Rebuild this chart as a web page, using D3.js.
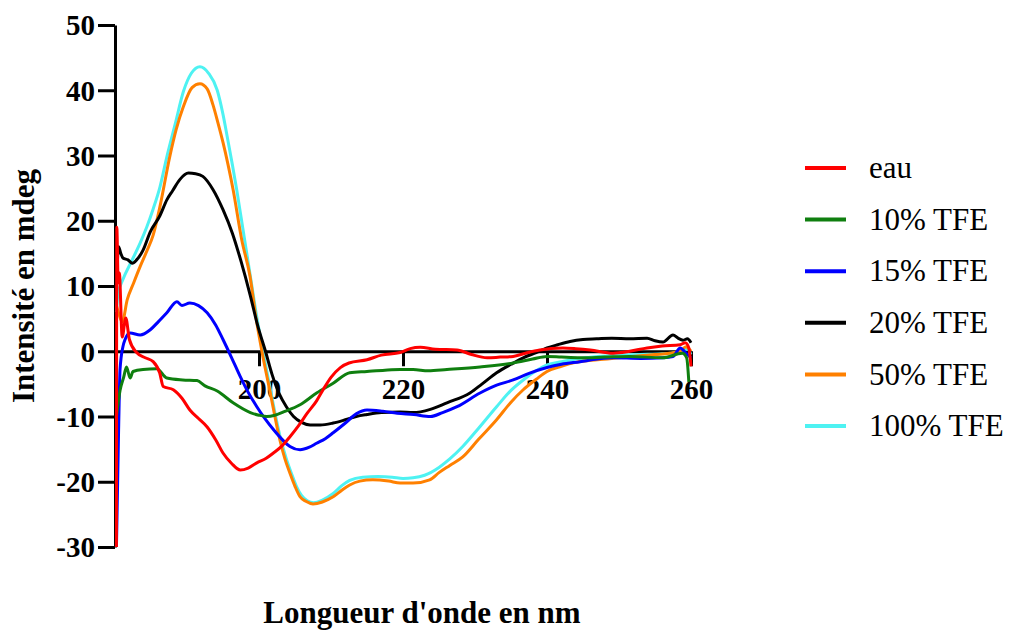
<!DOCTYPE html>
<html>
<head>
<meta charset="utf-8">
<script src="https://cdnjs.cloudflare.com/ajax/libs/d3/7.8.5/d3.min.js"></script>
<style>
  html, body { margin: 0; padding: 0; background: #fff; }
  svg { display: block; }
</style>
</head>
<body>
<svg id="chart" width="1009" height="631"></svg>
<script>
// ---- Data ----
const seriesNames = ["eau", "10% TFE", "15% TFE", "20% TFE", "50% TFE", "100% TFE"];
const seriesColors = ["#ff0000", "#0f7f0f", "#0000ff", "#000000", "#ff8000", "#4ef2f2"];

const xTicks = [200, 220, 240, 260];
const yTicks = [-30, -20, -10, 0, 10, 20, 30, 40, 50];

const eau = [[180.2,-30],[180.25,19],[180.45,10.5],[180.6,12],[181.0,2.2],[181.5,5.1],[182.0,1.8],[183.0,-0.2],[184.2,-1.0],[185.3,-1.6],[186.2,-3.3],[186.7,-5.4],[188.1,-5.9],[189.3,-7.2],[190.4,-9],[191.6,-10.3],[192.8,-11.6],[194,-13.6],[195,-15.6],[196.2,-17.2],[197.4,-18.2],[198.5,-17.9],[199.7,-17.1],[201,-16.4],[202,-15.6],[203.2,-14.5],[204.3,-13.1],[205.5,-11.4],[206.7,-9.5],[208,-7.6],[208.9,-5.9],[210,-4],[211.3,-2.5],[212.5,-1.8],[215,-1.3],[217,-0.6],[219.6,-0.2],[221,0.4],[222.4,0.6],[224.5,0.3],[227.5,0.2],[229.5,-0.5],[231.7,-1],[233.5,-0.9],[235.3,-0.8],[237,-0.3],[239,0.2],[242.2,0.5],[244,0.4],[246,0.2],[249.2,-0.3],[251.5,0],[253.9,0.5],[256,0.8],[258.5,1],[259.2,1.3],[259.7,0.5],[260,-2.3]];

const tfe10 = [[180.2,-10],[180.7,-6],[181.2,-4],[181.6,-2.4],[182.1,-4.1],[182.5,-3.1],[183.9,-2.8],[185.8,-2.7],[187.2,-4.1],[189.4,-4.4],[191.4,-4.5],[192.5,-5.3],[194.2,-6.1],[196.4,-7.9],[198.8,-9.4],[200,-9.8],[201.1,-10],[202.2,-9.8],[203.4,-9.3],[205.7,-8.2],[208,-6.4],[210.3,-4.9],[212.6,-3.3],[215,-3.1],[217.5,-2.9],[219.6,-2.8],[221.4,-2.8],[223.5,-3],[226.1,-2.8],[230.7,-2.4],[235.3,-1.8],[238,-1.2],[240,-0.8],[242,-0.9],[244.6,-1],[248,-0.9],[251.5,-0.8],[256.1,-1],[258.8,-0.3],[259.4,-1],[259.7,-4.7]];

const tfe15 = [[180.2,-30],[180.5,-12],[180.7,-2.8],[181.1,0.7],[181.4,1.8],[182.1,2.8],[183.5,2.5],[184.9,3.3],[186,4.5],[187.2,5.9],[188.6,7.6],[189.3,7],[190.4,7.4],[191.6,7],[192.8,5.9],[194,4],[195,1.8],[196.2,-1],[197.4,-3.9],[198.5,-6.3],[199.7,-8.5],[200.8,-10.3],[202,-12],[203.2,-13.5],[204.3,-14.6],[205.7,-15.1],[207,-14.7],[208,-14.1],[209.2,-13.4],[210.3,-12.5],[212,-11],[213.5,-9.6],[215,-9],[217.2,-9.2],[219.2,-9.5],[221.5,-9.7],[223.8,-10],[225.5,-9.4],[227.5,-8.5],[230.7,-6.4],[233,-5.2],[235.3,-4.4],[237.5,-3.4],[240,-2.5],[242,-2],[244.6,-1.6],[247,-1.2],[249.2,-1],[253,-1.1],[256.1,-1],[257.5,-0.8],[258.5,0.5],[259.3,-0.3],[260,-1]];

const tfe20 = [[180.2,10],[180.5,16],[180.8,15],[181.1,14.3],[181.8,14],[182.4,13.5],[183,14],[183.9,15.5],[184.9,18.3],[186.25,20.8],[187.2,23.2],[188,24.6],[189,26.3],[190.2,27.3],[191.2,27.2],[192.2,26.8],[193.6,24.8],[195,21.7],[196.3,18.1],[197.5,13.8],[198.8,8.5],[199.8,4],[200.9,0],[201.8,-3.5],[202.8,-6.5],[203.8,-8.5],[204.8,-10],[205.9,-10.9],[207.1,-11.3],[208.5,-11.3],[210.3,-11],[212,-10.5],[213.5,-10],[215,-9.7],[217,-9.4],[219.6,-9.3],[221.4,-9.4],[223.8,-8.9],[226.1,-7.9],[229.3,-6.4],[231,-5],[233,-3.3],[235,-2],[236.7,-1],[238.5,-0.2],[240,0.5],[241.5,1],[243.2,1.5],[245,1.8],[246.9,1.9],[249,2],[251.5,1.9],[253.9,2],[255,1.6],[256.1,1.4],[257.5,2.5],[258.2,2],[258.9,1.7],[259.5,1.9],[260,1.3]];

const tfe50 = [[180.2,7],[180.6,5.5],[181,4.5],[181.7,7.9],[182.6,10.5],[183.5,13],[184.4,15.3],[185.3,17.8],[186.25,22.2],[187.6,29.8],[188.5,34],[189.5,37.5],[190.7,40.4],[191.8,41],[192.8,40.2],[193.6,37.8],[194.3,35],[195,32],[195.7,28.6],[196.4,24.8],[197.6,17.1],[198.75,11.5],[199.6,5],[200.4,0],[201.5,-6],[202.9,-13.6],[203.6,-16.5],[204.3,-18.7],[205,-20.7],[205.7,-22.3],[206.5,-23],[207.5,-23.4],[208.8,-23.1],[210.3,-22.3],[211.5,-21.3],[212.6,-20.5],[214,-19.9],[215.8,-19.7],[218,-19.9],[219.6,-20.2],[221.4,-20.2],[223.7,-19.7],[225,-18.6],[226.5,-17.5],[228.3,-16.2],[230.5,-13.5],[233,-10.5],[235,-7.8],[236.7,-5.9],[238.5,-4.3],[240,-3.1],[242,-2.3],[244,-1.7],[247,-1.3],[250,-1],[253,-0.7],[255,-0.5],[257,-0.3],[258.5,0],[259.3,0.7],[260,0]];

const tfe100 = [[180.2,6],[180.4,8.7],[181.1,11],[182.3,13.8],[183.5,16.6],[184.4,19],[185.3,21.8],[186.25,25.2],[187.2,29.8],[188.4,35],[189.5,39.8],[190.6,42.6],[191.8,43.6],[193,42.6],[194.2,40],[195,36.3],[195.6,32.8],[196.3,28.6],[196.9,24.8],[197.8,18.5],[198.8,11.5],[199.7,5.2],[200.55,0],[201.6,-6],[203,-13.4],[203.8,-16.5],[204.5,-18.7],[205.2,-20.7],[205.9,-22.1],[206.7,-22.9],[207.6,-23.2],[208.8,-22.8],[210.3,-21.8],[211.5,-20.6],[212.6,-19.8],[214.4,-19.3],[216.5,-19.2],[218.5,-19.3],[220,-19.5],[221.4,-19.4],[223,-19],[225,-17.8],[226.5,-16.5],[228.3,-14.6],[230.5,-11.8],[233,-8.5],[235,-6],[236.7,-4.4],[238.5,-3],[240,-2.1],[242,-1.6],[244,-1.2],[247,-0.8],[250,-0.6],[253,-0.5],[256,-0.4],[258,-0.2],[259.5,0.3],[260,-0.5]];

const seriesData = [eau, tfe10, tfe15, tfe20, tfe50, tfe100];

// ---- Chart ----
const svg = d3.select("#chart");
const x = d3.scaleLinear().domain([180, 260]).range([115, 691]);
const y = d3.scaleLinear().domain([-30, 50]).range([547, 25]);

const font = "'Liberation Serif', 'Times New Roman', serif";

// Y axis
const yAxis = svg.append("g")
  .attr("transform", `translate(${x(180)},0)`)
  .call(d3.axisLeft(y).tickValues(yTicks).tickFormat(d => String(d)).tickSize(17).tickSizeOuter(0).tickPadding(3));
yAxis.selectAll("path,line").attr("stroke", "#000").attr("stroke-width", 3);
yAxis.selectAll("text")
  .attr("font-family", font).attr("font-weight", "bold").attr("font-size", 29)
  .attr("fill", "#000").attr("dy", "0.34em");

// X axis at y=0
const xAxis = svg.append("g")
  .attr("transform", `translate(0,${y(0)})`)
  .call(d3.axisBottom(x).tickValues(xTicks).tickFormat(d => String(d)).tickSize(15).tickSizeOuter(0).tickPadding(12));
xAxis.selectAll("path,line").attr("stroke", "#000").attr("stroke-width", 3);
xAxis.selectAll("text")
  .attr("font-family", font).attr("font-weight", "bold").attr("font-size", 29)
  .attr("fill", "#000");

// Lines (drawn in reverse so the first series is on top)
const line = d3.line().x(d => x(d[0])).y(d => y(d[1])).curve(d3.curveMonotoneX);
const order = d3.range(seriesData.length).reverse();
svg.append("g").selectAll("path")
  .data(order)
  .join("path")
  .attr("d", i => line(seriesData[i]))
  .attr("fill", "none")
  .attr("stroke", i => seriesColors[i])
  .attr("stroke-width", 3)
  .attr("stroke-linejoin", "round");

// Axis titles
svg.append("text")
  .attr("transform", `translate(34,${(y(50) + y(-30)) / 2}) rotate(-90)`)
  .attr("text-anchor", "middle")
  .attr("font-family", font).attr("font-weight", "bold").attr("font-size", 31)
  .text("Intensité en mdeg");

svg.append("text")
  .attr("x", 422).attr("y", 623)
  .attr("text-anchor", "middle")
  .attr("font-family", font).attr("font-weight", "bold").attr("font-size", 31)
  .text("Longueur d'onde en nm");

// Legend
const legendY = d3.scaleLinear().domain([0, 5]).range([168, 426]);
const legend = svg.append("g").selectAll("g")
  .data(seriesNames)
  .join("g")
  .attr("transform", (d, i) => `translate(805,${legendY(i)})`);
legend.append("line")
  .attr("x1", 0).attr("x2", 41).attr("y1", 0).attr("y2", 0)
  .attr("stroke", (d, i) => seriesColors[i]).attr("stroke-width", 4);
legend.append("text")
  .attr("x", 64).attr("y", 0).attr("dy", "0.33em")
  .attr("font-family", font).attr("font-size", 31).attr("fill", "#000")
  .text(d => d);
</script>
</body>
</html>
